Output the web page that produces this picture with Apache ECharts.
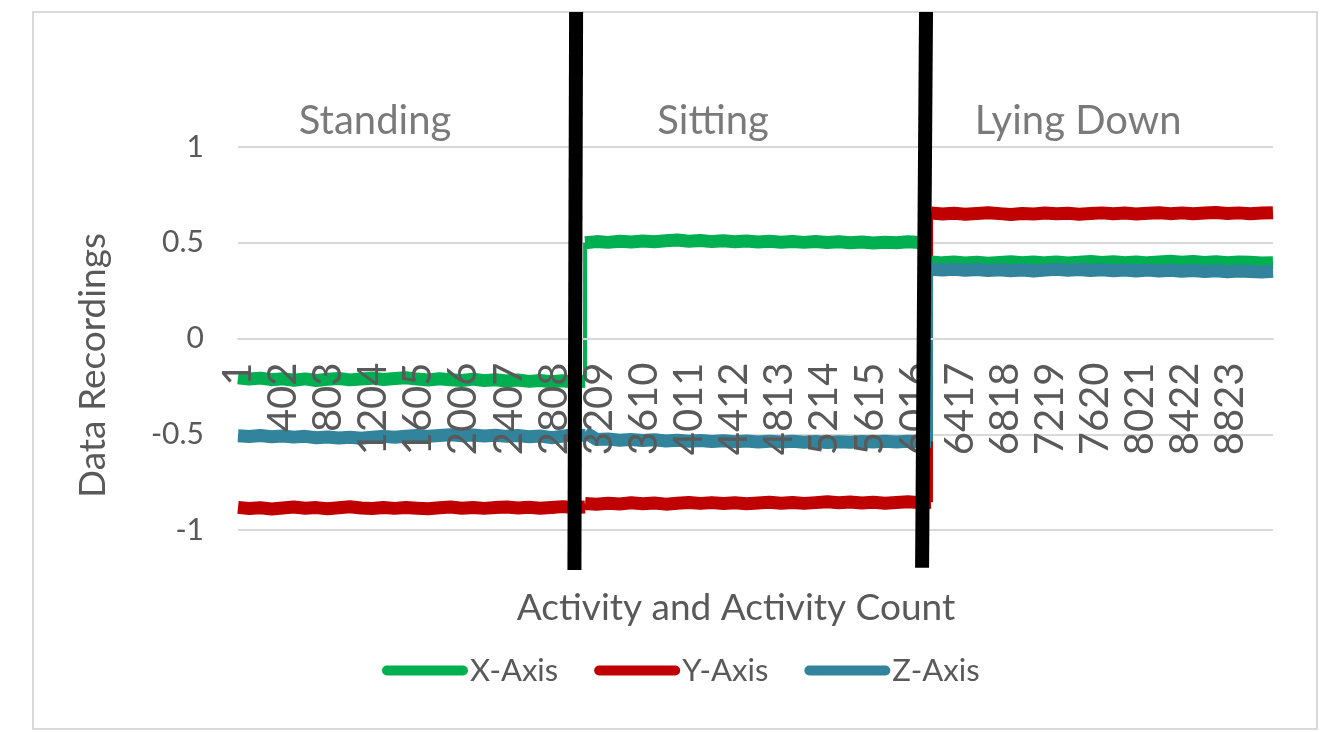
<!DOCTYPE html>
<html>
<head>
<meta charset="utf-8">
<script src="https://cdn.jsdelivr.net/npm/echarts@6/dist/echarts.min.js"></script>
<style>
  html, body { margin: 0; padding: 0; background: #ffffff; }
  #chart { width: 1342px; height: 732px; }
</style>
</head>
<body>
<div id="chart"></div>
<script>
// ---------------- DATA ----------------
const sampleCount = 9200;                       // samples on the category axis (1 .. 9200)
const seriesNames = ['X-Axis', 'Y-Axis', 'Z-Axis'];
const phaseNames = ['Standing', 'Sitting', 'Lying Down'];
// first / last sample index of each activity phase
const phaseBounds = [[0, 3084], [3085, 6159], [6160, 9199]];
// sample index where the black divider shapes stand (top, bottom)
const dividerAt = [[3005, 2990], [6115, 6080]];

const xStanding = [-0.205,-0.212,-0.207,-0.215,-0.210,-0.218,-0.211,-0.219,-0.213,-0.209,-0.216,-0.211,-0.207,-0.214,-0.209,-0.205,-0.212,-0.217,-0.210,-0.215,-0.219,-0.212,-0.220,-0.215,-0.222,-0.217,-0.224,-0.219,-0.226,-0.221,-0.227,-0.223];
const xSitting  = [0.500,0.506,0.502,0.508,0.504,0.509,0.505,0.510,0.514,0.508,0.512,0.506,0.510,0.505,0.509,0.504,0.508,0.503,0.507,0.502,0.506,0.501,0.505,0.500,0.504,0.499,0.503,0.500,0.505,0.501,0.504];
const xLying    = [0.400,0.395,0.399,0.394,0.398,0.393,0.397,0.401,0.396,0.400,0.395,0.399,0.394,0.398,0.402,0.397,0.401,0.396,0.400,0.395,0.399,0.403,0.398,0.402,0.397,0.401,0.396,0.400,0.398,0.394,0.396];

const yStanding = [-0.882,-0.888,-0.884,-0.890,-0.885,-0.880,-0.886,-0.883,-0.889,-0.884,-0.879,-0.885,-0.888,-0.883,-0.887,-0.882,-0.886,-0.889,-0.884,-0.880,-0.886,-0.882,-0.887,-0.883,-0.880,-0.885,-0.881,-0.886,-0.882,-0.878,-0.883,-0.880];
const ySitting  = [-0.862,-0.866,-0.860,-0.864,-0.858,-0.863,-0.859,-0.865,-0.860,-0.856,-0.861,-0.857,-0.862,-0.858,-0.863,-0.859,-0.855,-0.860,-0.856,-0.861,-0.857,-0.853,-0.858,-0.854,-0.859,-0.855,-0.860,-0.856,-0.853,-0.857,-0.855];
const yLying    = [0.655,0.650,0.654,0.649,0.653,0.657,0.652,0.648,0.653,0.650,0.655,0.651,0.654,0.649,0.653,0.656,0.651,0.655,0.650,0.654,0.657,0.652,0.656,0.651,0.655,0.658,0.653,0.656,0.652,0.655,0.657];

const zStanding = [-0.508,-0.512,-0.507,-0.513,-0.509,-0.515,-0.511,-0.518,-0.514,-0.520,-0.516,-0.521,-0.515,-0.511,-0.516,-0.510,-0.506,-0.511,-0.507,-0.503,-0.508,-0.504,-0.509,-0.505,-0.511,-0.507,-0.513,-0.509,-0.518,-0.510,-0.502,-0.506];
const zSitting  = [-0.490,-0.528,-0.525,-0.531,-0.527,-0.533,-0.529,-0.535,-0.531,-0.537,-0.533,-0.538,-0.534,-0.539,-0.535,-0.540,-0.536,-0.541,-0.537,-0.542,-0.538,-0.543,-0.539,-0.542,-0.538,-0.541,-0.537,-0.540,-0.536,-0.539,-0.537];
const zLying    = [0.362,0.358,0.361,0.356,0.360,0.355,0.359,0.354,0.358,0.353,0.357,0.361,0.356,0.360,0.355,0.359,0.354,0.358,0.353,0.357,0.352,0.356,0.351,0.355,0.350,0.354,0.349,0.353,0.350,0.347,0.351];

// ---------------- BUILD ----------------
const categories = [];
for (let i = 1; i <= sampleCount; i++) categories.push(String(i));

function phasePoints(phaseIdx, vals) {
  const [s, e] = phaseBounds[phaseIdx];
  return vals.map((v, i) => [s + Math.round(i * (e - s) / (vals.length - 1)), v]);
}
// the three phases as one series, broken between phases (steps drawn separately, thinner)
function bandData(phases) {
  const out = [];
  phases.forEach((vals, p) => {
    if (p > 0) out.push(null);
    phasePoints(p, vals).forEach(pt => out.push(pt));
  });
  return out;
}
function stepData(phases) {
  const out = [];
  for (let p = 0; p < phases.length - 1; p++) {
    const a = phasePoints(p, phases[p]), b = phasePoints(p + 1, phases[p + 1]);
    if (p > 0) out.push(null);
    out.push(a[a.length - 1], b[0]);
  }
  return out;
}
const readings = [
  [xStanding, xSitting, xLying],
  [yStanding, ySitting, yLying],
  [zStanding, zSitting, zLying]
];

// ---------------- STYLE / LAYOUT ----------------
const FONT = 'Lato, "Open Sans", sans-serif';
const TXT = '#595959';
const colors = ['#00b050', '#c00000', '#31849b'];
const phaseLabelAt = [1218, 4222, 7467];
const phaseLabelLevel = 0.805;
const GRID_TOP = 147, GRID_BOTTOM = 202, H = 732;
// category axis sits on the value 0 line (middle of the -1..1 range)
const zeroOffset = -((H - GRID_BOTTOM) - GRID_TOP) / 2;

const chart = echarts.init(document.getElementById('chart'), null, { renderer: 'canvas' });

const lineSeries = [];
readings.forEach((r, i) => {
  lineSeries.push({
    name: seriesNames[i] + ' step',
    type: 'line',
    xAxisIndex: 0,
    yAxisIndex: 0,
    data: stepData(r),
    connectNulls: false,
    showSymbol: false,
    symbol: 'none',
    animation: false,
    silent: true,
    lineStyle: { color: colors[i], width: 4 },
    itemStyle: { color: colors[i] },
    z: 2
  });
});
readings.forEach((r, i) => {
  lineSeries.push({
    name: seriesNames[i],
    type: 'line',
    xAxisIndex: 0,
    yAxisIndex: 0,
    data: bandData(r),
    connectNulls: false,
    showSymbol: false,
    symbol: 'none',
    animation: false,
    lineStyle: { color: colors[i], width: 13, join: 'round', cap: 'butt' },
    itemStyle: { color: colors[i] },
    z: 3
  });
});

const dividerSeries = dividerAt.map((d, i) => ({
  name: 'divider' + i,
  type: 'line',
  xAxisIndex: 1,
  yAxisIndex: 1,
  data: [[d[0], 1], [d[1], 0.004 * i]],
  showSymbol: false,
  symbol: 'none',
  animation: false,
  silent: true,
  lineStyle: { color: '#000000', width: 14, cap: 'butt' },
  z: 10
}));

const phaseSeries = {
  name: 'phases',
  type: 'scatter',
  xAxisIndex: 1,
  yAxisIndex: 1,
  symbolSize: 1,
  animation: false,
  silent: true,
  itemStyle: { color: 'rgba(0,0,0,0)' },
  data: phaseNames.map((n, i) => ({ name: n, value: [phaseLabelAt[i], phaseLabelLevel] })),
  label: {
    show: true,
    position: 'inside',
    formatter: '{b}',
    fontFamily: FONT,
    fontSize: 40,
    color: TXT
  },
  z: 11
};

const option = {
  backgroundColor: '#ffffff',
  animation: false,
  graphic: [{
    type: 'rect',
    shape: { x: 33, y: 12, width: 1284, height: 717 },
    style: { fill: 'none', stroke: '#d9d9d9', lineWidth: 2 },
    silent: true,
    z: -1
  }],
  title: {
    text: 'Activity and Activity Count',
    left: 731,
    top: 585,
    textAlign: 'center',
    textStyle: { fontFamily: FONT, fontSize: 37, fontWeight: 'normal', color: TXT }
  },
  legend: {
    data: seriesNames,
    left: 377,
    top: 650,
    itemWidth: 86,
    itemHeight: 10,
    itemGap: 36,
    icon: 'path://M5,0 L81,0 A5,5 0 0 1 81,10 L5,10 A5,5 0 0 1 5,0 Z',
    textStyle: { fontFamily: FONT, fontSize: 31, color: TXT, padding: [0, 0, 0, -3] }
  },
  grid: [
    { left: 238, right: 69, top: GRID_TOP, bottom: GRID_BOTTOM, containLabel: false },
    { left: 238, right: 69, top: 12, bottom: 162, containLabel: false }
  ],
  xAxis: [{
    gridIndex: 0,
    type: 'category',
    data: categories,
    boundaryGap: false,
    position: 'bottom',
    offset: zeroOffset,
    z: 5,
    axisLine: { show: true, onZero: false, lineStyle: { color: '#d9d9d9', width: 2 } },
    axisTick: { show: false },
    axisLabel: {
      interval: 400,
      rotate: 90,
      margin: 24,
      fontFamily: FONT,
      fontSize: 40,
      color: TXT
    },
    splitLine: { show: false }
  }, {
    gridIndex: 1,
    type: 'category',
    data: categories,
    boundaryGap: false,
    show: false
  }],
  yAxis: [{
    gridIndex: 0,
    type: 'value',
    min: -1,
    max: 1,
    interval: 0.5,
    name: 'Data Recordings',
    nameLocation: 'middle',
    nameGap: 126,
    nameRotate: 90,
    nameTextStyle: { fontFamily: FONT, fontSize: 37, color: TXT, padding: [0, 54, 0, 0] },
    axisLine: { show: false },
    axisTick: { show: false },
    axisLabel: { margin: 34, fontFamily: FONT, fontSize: 30, color: TXT },
    splitLine: { show: true, lineStyle: { color: '#d9d9d9', width: 2 } }
  }, {
    gridIndex: 1,
    type: 'value',
    min: 0,
    max: 1,
    show: false
  }],
  series: lineSeries.concat(dividerSeries, [phaseSeries])
};

chart.setOption(option);
</script>
</body>
</html>
